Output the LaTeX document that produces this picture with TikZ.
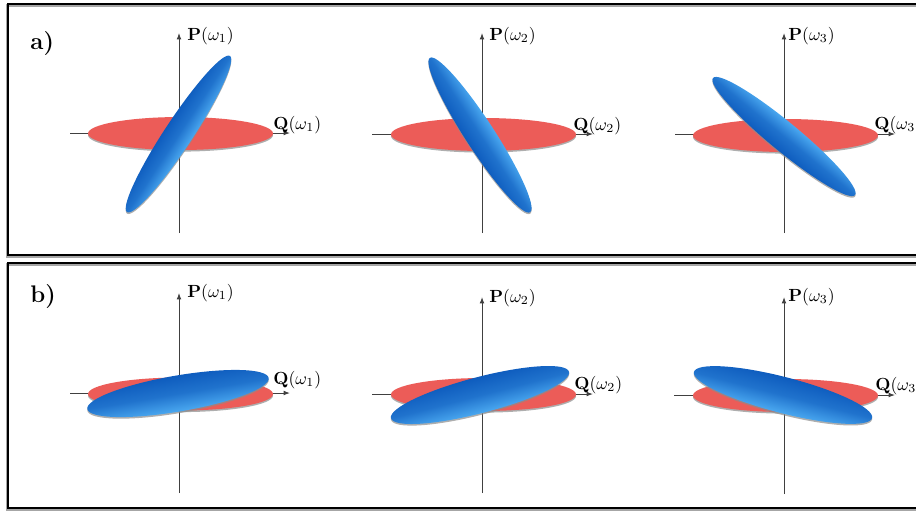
\documentclass[tikz,border=0pt]{standalone}
\usetikzlibrary{arrows.meta}
\definecolor{redc}{RGB}{236,92,88}
\definecolor{bdark}{RGB}{14,92,190}
\definecolor{blight}{RGB}{74,168,240}
\tikzset{
  axisline/.style={draw=black!75, line width=0.5pt},
  axisarrow/.style={axisline, -{Latex[length=3.2pt,width=2.4pt]}},
  redell/.style={fill=redc},
  shadowell/.style={fill=black!45, opacity=0.7},
  lbl/.style={inner sep=0pt, anchor=base west, scale=0.88, font=\fontsize{10}{12}\selectfont},
  tag/.style={inner sep=0pt, anchor=base west, font=\fontsize{12}{14}\selectfont\bfseries},
  framebox/.style={draw=black, line width=1.1pt},
  frameshadow/.style={draw=black!35, line width=1.1pt}
}
% #1 cx, #2 cy, #3 angle, #4 semi-major, #5 semi-minor, #6 top colour, #7 bottom colour
\newcommand\blueellipse[7]{%
  \begin{scope}[transform canvas={shift={(#1,#2+1.6)}, rotate=#3}]
    \fill[shadowell] (0,0) ellipse [x radius=#4, y radius=#5];
  \end{scope}
  \begin{scope}[transform canvas={shift={(#1,#2)}, rotate=#3}]
    \shade[top color=#6, bottom color=#7, middle color=bdark!70!blight] (0,0) ellipse [x radius=#4, y radius=#5];
  \end{scope}}
\newcommand\redellipse[2]{%
  \fill[shadowell] (#1,#2+1.6) ellipse [x radius=92.5, y radius=16.5];
  \fill[redell] (#1,#2) ellipse [x radius=92.5, y radius=16.5];}
\begin{document}
\begin{tikzpicture}[x=0.5pt, y=-0.5pt]
\useasboundingbox (0,0) rectangle (916,510);
\clip (0,0) rectangle (916,510);
\fill[white] (0,0) rectangle (916,510);
% frames
\draw[frameshadow] (7,5.5) rectangle (930,256.5);
\draw[framebox] (8,4) rectangle (930,255);
\draw[frameshadow] (7,264.5) rectangle (930,509.5);
\draw[framebox] (8,263) rectangle (930,508);
\node[tag] (ta) at (30,49) {a)};
\node[tag] (tb) at (30,302) {b)};

% ---------- panel a1 ----------
\coordinate (a1t) at (179,33); \coordinate (a1b) at (179,233);
\coordinate (a1l) at (70,133); \coordinate (a1r) at (290,133);
\draw[axisarrow] (a1b) -- (a1t);
\draw[axisarrow] (a1l) -- (a1r);
\redellipse{180.5}{133.5}
\blueellipse{178.5}{134}{56.6}{93.5}{14}{bdark}{blight}
\node[lbl] (a1P) at (187,40) {$\mathbf{P}(\omega_1)$};
\node[lbl] (a1Q) at (273,129) {$\mathbf{Q}(\omega_1)$};

% ---------- panel a2 ----------
\coordinate (a2t) at (482,33); \coordinate (a2b) at (482,233);
\coordinate (a2l) at (372,134); \coordinate (a2r) at (593,134);
\draw[axisarrow] (a2b) -- (a2t);
\draw[axisarrow] (a2l) -- (a2r);
\redellipse{483.5}{134.5}
\blueellipse{480}{135}{-57}{92}{14.5}{blight}{bdark}
\node[lbl] (a2P) at (489,40) {$\mathbf{P}(\omega_2)$};
\node[lbl] (a2Q) at (573,130) {$\mathbf{Q}(\omega_2)$};

% ---------- panel a3 ----------
\coordinate (a3t) at (784,33); \coordinate (a3b) at (784,233);
\coordinate (a3l) at (675,134); \coordinate (a3r) at (895,134);
\draw[axisarrow] (a3b) -- (a3t);
\draw[axisarrow] (a3l) -- (a3r);
\redellipse{785.5}{135.5}
\blueellipse{784}{136.5}{-39.5}{92}{14.5}{blight}{bdark}
\node[lbl] (a3P) at (788,40) {$\mathbf{P}(\omega_3)$};
\node[lbl] (a3Q) at (874,129) {$\mathbf{Q}(\omega_3)$};

% ---------- panel b1 ----------
\coordinate (b1t) at (179,293); \coordinate (b1b) at (179,493);
\coordinate (b1l) at (70,393); \coordinate (b1r) at (290,393);
\draw[axisarrow] (b1b) -- (b1t);
\draw[axisarrow] (b1l) -- (b1r);
\redellipse{180.5}{394}
\blueellipse{178}{393.5}{9.7}{92}{18}{bdark}{blight}
\node[lbl] (b1P) at (187,297) {$\mathbf{P}(\omega_1)$};
\node[lbl] (b1Q) at (273,384) {$\mathbf{Q}(\omega_1)$};

% ---------- panel b2 ----------
\coordinate (b2t) at (482,297); \coordinate (b2b) at (482,493);
\coordinate (b2l) at (372,394); \coordinate (b2r) at (593,394);
\draw[axisarrow] (b2b) -- (b2t);
\draw[axisarrow] (b2l) -- (b2r);
\redellipse{483.5}{394.5}
\blueellipse{480}{395}{14.6}{92}{18}{bdark}{blight}
\node[lbl] (b2P) at (489,302) {$\mathbf{P}(\omega_2)$};
\node[lbl] (b2Q) at (574,389) {$\mathbf{Q}(\omega_2)$};

% ---------- panel b3 ----------
\coordinate (b3t) at (784,297); \coordinate (b3b) at (784,494);
\coordinate (b3l) at (674,395); \coordinate (b3r) at (895,395);
\draw[axisarrow] (b3b) -- (b3t);
\draw[axisarrow] (b3l) -- (b3r);
\redellipse{785.5}{395.5}
\blueellipse{783}{395}{-14.5}{92}{18}{bdark}{blight}
\node[lbl] (b3P) at (788,301) {$\mathbf{P}(\omega_3)$};
\node[lbl] (b3Q) at (875,390) {$\mathbf{Q}(\omega_3)$};
\end{tikzpicture}
\end{document}
